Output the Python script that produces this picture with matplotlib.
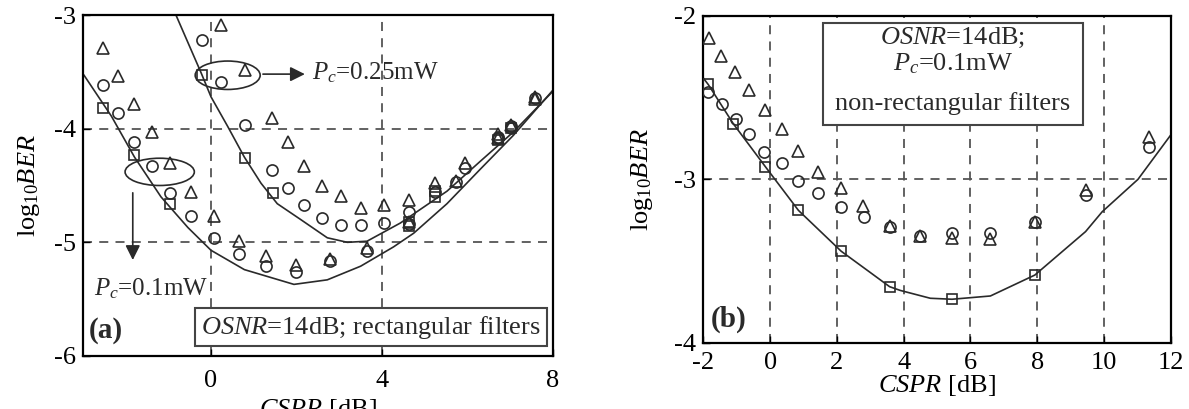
import matplotlib
matplotlib.use("Agg")
import matplotlib.pyplot as plt
import matplotlib.patches as patches

plt.rcParams['font.family'] = ['Liberation Serif', 'DejaVu Serif']
plt.rcParams['mathtext.fontset'] = 'custom'
plt.rcParams['mathtext.rm'] = 'Liberation Serif'
plt.rcParams['mathtext.it'] = 'Liberation Serif:italic'
plt.rcParams['mathtext.bf'] = 'Liberation Serif:bold'
plt.rcParams['axes.unicode_minus'] = False

# ---- panel (a): rectangular filters ----
# Pc = 0.1 mW
a_lo_x_tri = [-2.53, -2.17, -1.79, -1.37, -0.95, -0.47, 0.08, 0.66, 1.28, 1.98, 2.78, 3.64, 4.62, 5.73, 6.72, 7.58]
a_lo_y_tri = [-3.29, -3.54, -3.78, -4.03, -4.30, -4.56, -4.77, -4.99, -5.12, -5.20, -5.15, -5.05, -4.82, -4.46, -4.08, -3.74]
a_lo_x_circ = [-2.53, -2.17, -1.79, -1.37, -0.95, -0.47, 0.08, 0.66, 1.28, 1.98, 2.78, 3.64, 4.62, 5.73, 6.72, 7.01]
a_lo_y_circ = [-3.62, -3.86, -4.12, -4.33, -4.57, -4.77, -4.96, -5.10, -5.21, -5.26, -5.16, -5.08, -4.84, -4.47, -4.08, -3.99]
a_lo_x_sq = [-2.53, -1.79, -0.95, 4.62, 5.24, 6.72]
a_lo_y_sq = [-3.82, -4.23, -4.66, -4.86, -4.60, -4.10]
a_lo_curve_x = [-2.97, -2.33, -1.79, -1.17, -0.54, 0.0, 0.78, 1.94, 2.72, 3.50, 4.27, 4.74, 5.52, 6.29, 7.07, 8.0]
a_lo_curve_y = [-3.53, -3.89, -4.25, -4.60, -4.87, -5.07, -5.24, -5.37, -5.33, -5.21, -5.04, -4.92, -4.66, -4.36, -4.06, -3.66]

# Pc = 0.25 mW
a_hi_x_tri = [0.23, 0.79, 1.42, 1.79, 2.18, 2.59, 3.03, 3.50, 4.04, 4.62, 5.24, 5.94, 6.72, 7.01, 7.58]
a_hi_y_tri = [-3.09, -3.48, -3.91, -4.12, -4.33, -4.50, -4.59, -4.70, -4.67, -4.63, -4.48, -4.30, -4.05, -3.97, -3.72]
a_hi_x_circ = [-0.22, 0.23, 0.79, 1.42, 1.79, 2.18, 2.59, 3.03, 3.50, 4.04, 4.62, 5.24, 5.94, 6.72, 7.01, 7.58]
a_hi_y_circ = [-3.22, -3.59, -3.97, -4.36, -4.52, -4.67, -4.79, -4.85, -4.85, -4.83, -4.73, -4.56, -4.35, -4.07, -3.98, -3.73]
a_hi_x_sq = [-0.22, 0.79, 1.44, 4.62, 5.24, 7.01]
a_hi_y_sq = [-3.53, -4.26, -4.57, -4.82, -4.55, -3.99]
a_hi_curve_x = [-0.82, -0.23, 0.0, 0.39, 0.78, 1.17, 1.55, 2.10, 2.72, 3.19, 3.65, 4.43, 5.52, 6.29, 7.07, 8.0]
a_hi_curve_y = [-3.0, -3.51, -3.72, -3.98, -4.25, -4.48, -4.66, -4.80, -4.96, -5.0, -4.99, -4.83, -4.55, -4.29, -4.03, -3.67]

# ---- panel (b): non-rectangular filters ----
b_x_tri = [-1.82, -1.47, -1.05, -0.63, -0.15, 0.35, 0.85, 1.45, 2.13, 2.78, 3.58, 4.50, 5.45, 6.58, 7.93, 9.45, 11.35]
b_y_tri = [-2.137, -2.245, -2.345, -2.453, -2.576, -2.694, -2.827, -2.953, -3.055, -3.163, -3.286, -3.347, -3.36, -3.367, -3.259, -3.065, -2.74]
b_x_circ = [-1.85, -1.45, -1.03, -0.63, -0.17, 0.35, 0.83, 1.45, 2.13, 2.80, 3.58, 4.50, 5.45, 6.58, 7.93, 9.45, 11.35]
b_y_circ = [-2.464, -2.541, -2.631, -2.723, -2.835, -2.902, -3.009, -3.086, -3.168, -3.229, -3.294, -3.347, -3.33, -3.327, -3.259, -3.096, -2.80]
b_x_sq = [-1.85, -1.10, -0.15, 0.85, 2.13, 3.58, 5.45, 7.93]
b_y_sq = [-2.419, -2.662, -2.923, -3.188, -3.437, -3.657, -3.734, -3.586]
b_curve_x = [-2.0, -1.85, -1.10, -0.15, 0.85, 2.13, 3.0, 3.58, 3.9, 4.8, 5.45, 6.6, 7.93, 9.45, 9.95, 11.02, 12.0]
b_curve_y = [-2.38, -2.42, -2.66, -2.92, -3.19, -3.44, -3.57, -3.657, -3.68, -3.728, -3.734, -3.714, -3.586, -3.32, -3.198, -3.0, -2.729]

ink = '#2a2a2a'
mk = dict(linestyle='none', markerfacecolor='none', markeredgecolor=ink, markeredgewidth=1.2)
grid_kw = dict(color='#555555', linestyle=(0, (5, 4)), linewidth=1.3)
fs = 19


def style_axes(ax, xt, yt, xpad):
    ax.set_xticks(xt)
    ax.set_yticks(yt)
    ax.tick_params(direction='in', length=5, width=1, labelsize=fs, top=False, right=False)
    ax.tick_params(axis='x', pad=xpad)
    ax.tick_params(axis='y', pad=5)
    for s in ax.spines.values():
        s.set_linewidth(1.6)
    ax.set_ylabel(r'$\mathrm{log}_{10}\mathit{BER}$', fontsize=fs)
    ax.set_xlabel(r'$\mathit{CSPR}$ [dB]', fontsize=fs)


fig = plt.figure(figsize=(11.89, 4.09), dpi=100)
ax1 = fig.add_axes([0.0696, 0.1296, 0.3955, 0.8337])
ax2 = fig.add_axes([0.5915, 0.1621, 0.3931, 0.7988])

# panel (a)
ax1.set_xlim(-3, 8)
ax1.set_ylim(-6, -3)
for gx in [0, 4]:
    ax1.axvline(gx, **grid_kw, zorder=1)
for gy in [-4, -5]:
    ax1.axhline(gy, **grid_kw, zorder=1)
ax1.plot(a_lo_curve_x, a_lo_curve_y, color=ink, lw=1.2, zorder=2)
ax1.plot(a_hi_curve_x, a_hi_curve_y, color=ink, lw=1.2, zorder=2)
for xs, ys in [(a_lo_x_tri, a_lo_y_tri), (a_hi_x_tri, a_hi_y_tri)]:
    ax1.plot(xs, ys, marker='^', markersize=9, **mk, zorder=3)
for xs, ys in [(a_lo_x_circ, a_lo_y_circ), (a_hi_x_circ, a_hi_y_circ)]:
    ax1.plot(xs, ys, marker='o', markersize=8, **mk, zorder=3)
for xs, ys in [(a_lo_x_sq, a_lo_y_sq), (a_hi_x_sq, a_hi_y_sq)]:
    ax1.plot(xs, ys, marker='s', markersize=7.5, **mk, zorder=3)

ax1.add_patch(patches.Ellipse((0.39, -3.53), 1.52, 0.25, fill=False, ec=ink, lw=1.2, zorder=4))
ax1.add_patch(patches.Ellipse((-1.20, -4.38), 1.62, 0.24, fill=False, ec=ink, lw=1.2, zorder=4))
ax1.annotate('', xy=(2.26, -3.52), xytext=(1.15, -3.52),
             arrowprops=dict(arrowstyle='-|>', color=ink, lw=1.2, mutation_scale=22))
ax1.annotate('', xy=(-1.83, -5.18), xytext=(-1.83, -4.54),
             arrowprops=dict(arrowstyle='-|>', color=ink, lw=1.2, mutation_scale=22))
ax1.text(2.36, -3.51, r'$P_c$=0.25mW', fontsize=18, va='center', ha='left', color=ink)
ax1.text(-2.74, -5.41, r'$P_c$=0.1mW', fontsize=18, va='center', ha='left', color=ink)
ax1.text(3.74, -5.745, r'$\mathit{OSNR}$=14dB; rectangular filters', fontsize=19,
         ha='center', va='center', color=ink,
         bbox=dict(boxstyle='square,pad=0.22', fc='white', ec='#444444', lw=1.5))
ax1.text(0.012, 0.076, '(a)', transform=ax1.transAxes, fontsize=21, fontweight='bold',
         ha='left', va='center', color=ink)
style_axes(ax1, [0, 4, 8], [-6, -5, -4, -3], 10)
ax1.yaxis.set_label_coords(-0.087, 0.5)
ax1.xaxis.set_label_coords(0.5, -0.12)

# panel (b)
ax2.set_xlim(-2, 12)
ax2.set_ylim(-4, -2)
for gx in [0, 2, 4, 6, 8, 10]:
    ax2.axvline(gx, **grid_kw, zorder=1)
ax2.axhline(-3, **grid_kw, zorder=1)
ax2.plot(b_curve_x, b_curve_y, color=ink, lw=1.2, zorder=2)
ax2.plot(b_x_tri, b_y_tri, marker='^', markersize=9, **mk, zorder=3)
ax2.plot(b_x_circ, b_y_circ, marker='o', markersize=8, **mk, zorder=3)
ax2.plot(b_x_sq, b_y_sq, marker='s', markersize=7.5, **mk, zorder=3)

ax2.add_patch(patches.Rectangle((1.58, -2.67), 7.78, 0.63, fc='white', ec='#444444', lw=1.5, zorder=4))
ax2.text(5.47, -2.135, r'$\mathit{OSNR}$=14dB;', fontsize=19, ha='center', va='center', color=ink, zorder=5)
ax2.text(5.47, -2.29, r'$P_c$=0.1mW', fontsize=19, ha='center', va='center', color=ink, zorder=5)
ax2.text(5.47, -2.535, 'non-rectangular filters', fontsize=19, ha='center', va='center', color=ink, zorder=5)
ax2.text(0.017, 0.07, '(b)', transform=ax2.transAxes, fontsize=21, fontweight='bold',
         ha='left', va='center', color=ink)
style_axes(ax2, [-2, 0, 2, 4, 6, 8, 10, 12], [-4, -3, -2], 7)
ax2.yaxis.set_label_coords(-0.103, 0.5)
ax2.xaxis.set_label_coords(0.5, -0.092)

fig.savefig('out.png', dpi=100)
